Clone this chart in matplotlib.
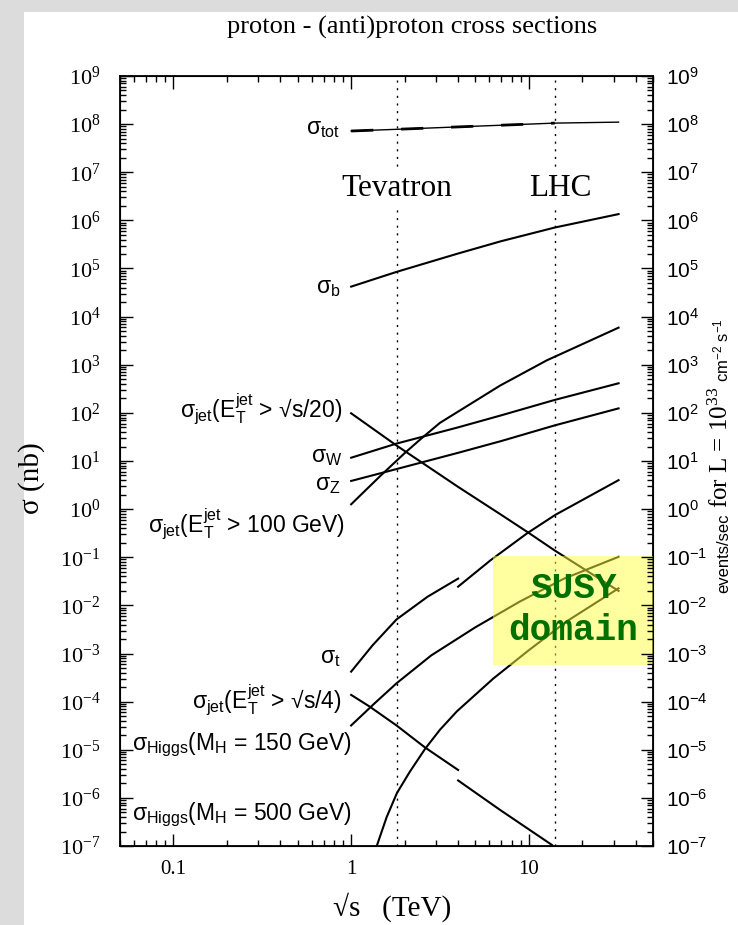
import numpy as np
import matplotlib
matplotlib.use('Agg')
import matplotlib.pyplot as plt
from matplotlib.patches import Rectangle
from matplotlib.ticker import FixedLocator, FuncFormatter, NullFormatter, LogLocator

plt.rcParams['mathtext.default'] = 'regular'
plt.rcParams['mathtext.fontset'] = 'custom'
plt.rcParams['mathtext.rm'] = 'Liberation Serif'
plt.rcParams['mathtext.sf'] = 'Liberation Sans'

SERIF = 'Liberation Serif'
SANS = 'Liberation Sans'

# sqrt(s) in TeV, sigma in nb
tot_x = [1, 1.8, 14, 32]
tot_y = [7.2e7, 7.8e7, 1.05e8, 1.1e8]

b_x = [1, 1.8, 4, 7, 14, 32]
b_y = [4.2e4, 8.5e4, 2.05e5, 3.7e5, 7.1e5, 1.35e6]

jet20_x = [1, 1.8, 4, 7, 10, 14, 32]
jet20_y = [98, 21, 2.9, 0.76, 0.32, 0.138, 0.020]

w_x = [1, 1.8, 4, 7, 14, 32]
w_y = [11.7, 23, 50, 89, 186, 412]

z_x = [1, 1.8, 4, 7, 14, 32]
z_y = [3.85, 6.8, 14.8, 26, 55, 124]

jet100_x = [1, 1.46, 2.01, 2.5, 3.16, 6.9, 12.6, 32]
jet100_y = [1.26, 4.9, 14.8, 30, 62, 370, 1230, 5900]

# ppbar below 4 TeV, pp above
top_ppbar_x = [1, 1.32, 1.8, 2.69, 4]
top_ppbar_y = [4.2e-4, 1.48e-3, 5.1e-3, 0.0151, 0.036]
top_pp_x = [4, 6.1, 9.8, 14.1, 32]
top_pp_y = [0.0245, 0.087, 0.316, 0.76, 4.0]

jet4_ppbar_x = [1, 1.27, 1.8, 2.6, 4]
jet4_ppbar_y = [1.38e-4, 7.9e-5, 3.2e-5, 1.12e-5, 3.8e-6]
jet4_pp_x = [4, 6.9, 13.5]
jet4_pp_y = [2.3e-6, 5.6e-7, 1.05e-7]

h150_x = [1, 1.35, 1.8, 2.82, 5.0, 8.9, 15.8, 32]
h150_y = [3.2e-5, 9.1e-5, 2.4e-4, 9.1e-4, 3.5e-3, 0.012, 0.036, 0.102]

h500_x = [1.40, 1.585, 1.81, 2.14, 2.61, 3.16, 3.94, 6.3, 10, 16.4, 32]
h500_y = [1.05e-7, 4.0e-7, 1.26e-6, 3.5e-6, 1.05e-5, 2.6e-5, 6.3e-5, 3.0e-4, 1.17e-3,
          4.7e-3, 0.0226]

colliders = [('Tevatron', 1.8, 1.8), ('LHC', 14, 15)]

curve_labels = [
    (r'$\sigma_{tot}$', 0.87, 6.2e7),
    (r'$\sigma_b$', 0.87, 3.1e4),
    (r'$\sigma_{jet}(E_T^{jet}$ > √s/20)', 0.89, 82),
    (r'$\sigma_W$', 0.89, 9.5),
    (r'$\sigma_Z$', 0.87, 2.5),
    (r'$\sigma_{jet}(E_T^{jet}$ > 100 GeV)', 0.92, 0.335),
    (r'$\sigma_t$', 0.87, 6.4e-4),
    (r'$\sigma_{jet}(E_T^{jet}$ > √s/4)', 0.89, 7.4e-5),
    (r'$\sigma_{Higgs}(M_H$ = 150 GeV)', 1.0, 9.9e-6),
    (r'$\sigma_{Higgs}(M_H$ = 500 GeV)', 1.0, 3.5e-7),
]

fig = plt.figure(figsize=(7.38, 9.25), dpi=100)
fig.patch.set_facecolor('#dcdcdc')
fig.add_artist(Rectangle((24 / 738, 0), 1, 1 - 12 / 925, transform=fig.transFigure,
                         facecolor='white', edgecolor='none', zorder=-10))

ax = fig.add_axes([120 / 738, 79 / 925, 533 / 738, 770 / 925])
ax.set_xscale('log')
ax.set_yscale('log')
ax.set_xlim(0.05, 50)
ax.set_ylim(1e-7, 1e9)

lw = 1.5
ax.plot(tot_x, tot_y, color='k', lw=1.0)
ax.plot(tot_x[:3], tot_y[:3], color='k', lw=2.0, dashes=(8, 10))
for xs, ys in [(b_x, b_y), (jet20_x, jet20_y), (w_x, w_y), (z_x, z_y),
               (jet100_x, jet100_y), (top_ppbar_x, top_ppbar_y), (top_pp_x, top_pp_y),
               (jet4_ppbar_x, jet4_ppbar_y), (jet4_pp_x, jet4_pp_y),
               (h150_x, h150_y), (h500_x, h500_y)]:
    ax.plot(xs, ys, color='k', lw=lw)

for name, xv, xt in colliders:
    ax.axvline(xv, color='k', lw=1.0, ls=(0, (1.5, 4)), zorder=1)
    ax.text(xt, 4.7e6, name, ha='center', va='center', family=SERIF, fontsize=22.5,
            bbox=dict(facecolor='white', edgecolor='none', pad=2), zorder=3)

for s, xv, yv in curve_labels:
    ax.text(xv, yv, s, ha='right', va='baseline', family=SANS, fontsize=16.5)

# SUSY domain
ax.add_patch(Rectangle((6.3, 5.8e-4), 50 - 6.3, 0.107 - 5.8e-4, facecolor='#ffff40',
                       alpha=0.5, edgecolor='none', zorder=4))
ax.text(17.8, 8.2e-3, 'SUSY\ndomain', ha='center', va='center', family='Liberation Mono',
        fontweight='bold', fontsize=26, color='#007000', zorder=5, linespacing=1.25)

# axes styling
for sp in ax.spines.values():
    sp.set_linewidth(1.3)
ax.yaxis.set_major_locator(FixedLocator(10.0 ** np.arange(-7, 10)))
ax.yaxis.set_minor_locator(LogLocator(base=10, subs=np.arange(2, 10), numticks=100))
ax.yaxis.set_major_formatter(FuncFormatter(lambda v, p: r'$10^{%d}$' % round(np.log10(v))))
ax.yaxis.set_minor_formatter(NullFormatter())
ax.xaxis.set_major_locator(FixedLocator([0.1, 1, 10]))
ax.xaxis.set_minor_locator(LogLocator(base=10, subs=np.arange(2, 10), numticks=100))
ax.xaxis.set_major_formatter(FuncFormatter(lambda v, p: '%g' % v))
ax.xaxis.set_minor_formatter(NullFormatter())
ax.tick_params(which='both', direction='in', top=True, right=False, width=1.0)
ax.tick_params(which='major', length=9)
ax.tick_params(which='minor', length=4.5)
ax.tick_params(axis='y', which='major', pad=14)
ax.tick_params(axis='x', which='major', pad=10)
for t in ax.get_yticklabels():
    t.set_family(SERIF)
    t.set_fontsize(16)
for t in ax.get_xticklabels():
    t.set_family(SERIF)
    t.set_fontsize(15)

ax2 = ax.twinx()
ax2.set_yscale('log')
ax2.set_ylim(1e-7, 1e9)
ax2.yaxis.set_major_locator(FixedLocator(10.0 ** np.arange(-7, 10)))
ax2.yaxis.set_minor_locator(LogLocator(base=10, subs=np.arange(2, 10), numticks=100))
ax2.yaxis.set_major_formatter(FuncFormatter(lambda v, p: r'$10^{%d}$' % round(np.log10(v))))
ax2.yaxis.set_minor_formatter(NullFormatter())
ax2.tick_params(which='both', direction='in', width=1.0)
ax2.tick_params(which='major', length=9, pad=9)
ax2.tick_params(which='minor', length=4.5)
for t in ax2.get_yticklabels():
    t.set_family(SANS)
    t.set_fontsize(15)

fig.text(412 / 738, 1 - 27 / 925, 'proton - (anti)proton cross sections', ha='center',
         va='center', family=SERIF, fontsize=19)
fig.text(32 / 738, 1 - 478 / 925, 'σ (nb)', rotation=90, ha='center', va='center',
         family=SERIF, fontsize=21)
fig.text(392 / 738, 1 - 907 / 925, '√s   (TeV)', ha='center', va='center',
         family=SERIF, fontsize=21)

# right axis title, mixed fonts stacked bottom to top
bx = 728 / 738
t1 = fig.text(bx, 1 - 593 / 925, 'events/sec', rotation=90, rotation_mode='anchor',
              ha='left', va='baseline', family=SANS, fontsize=12)
t2 = fig.text(0, 0, 'for L = $10^{33}$', rotation=90, rotation_mode='anchor',
              ha='left', va='baseline', family=SERIF, fontsize=18)
t3 = fig.text(0, 0, 'cm$^{-2}$ s$^{-1}$', rotation=90, rotation_mode='anchor',
              ha='left', va='baseline', family=SANS, fontsize=12)
fig.canvas.draw()
r = fig.canvas.get_renderer()
H = fig.bbox.height
bb1 = t1.get_window_extent(r)
t2.set_position((bx, (bb1.y1 + 5) / H))
fig.canvas.draw()
bb2 = t2.get_window_extent(r)
t3.set_position((bx, (bb2.y1 + 5) / H))

fig.savefig('out.png', dpi=100)
